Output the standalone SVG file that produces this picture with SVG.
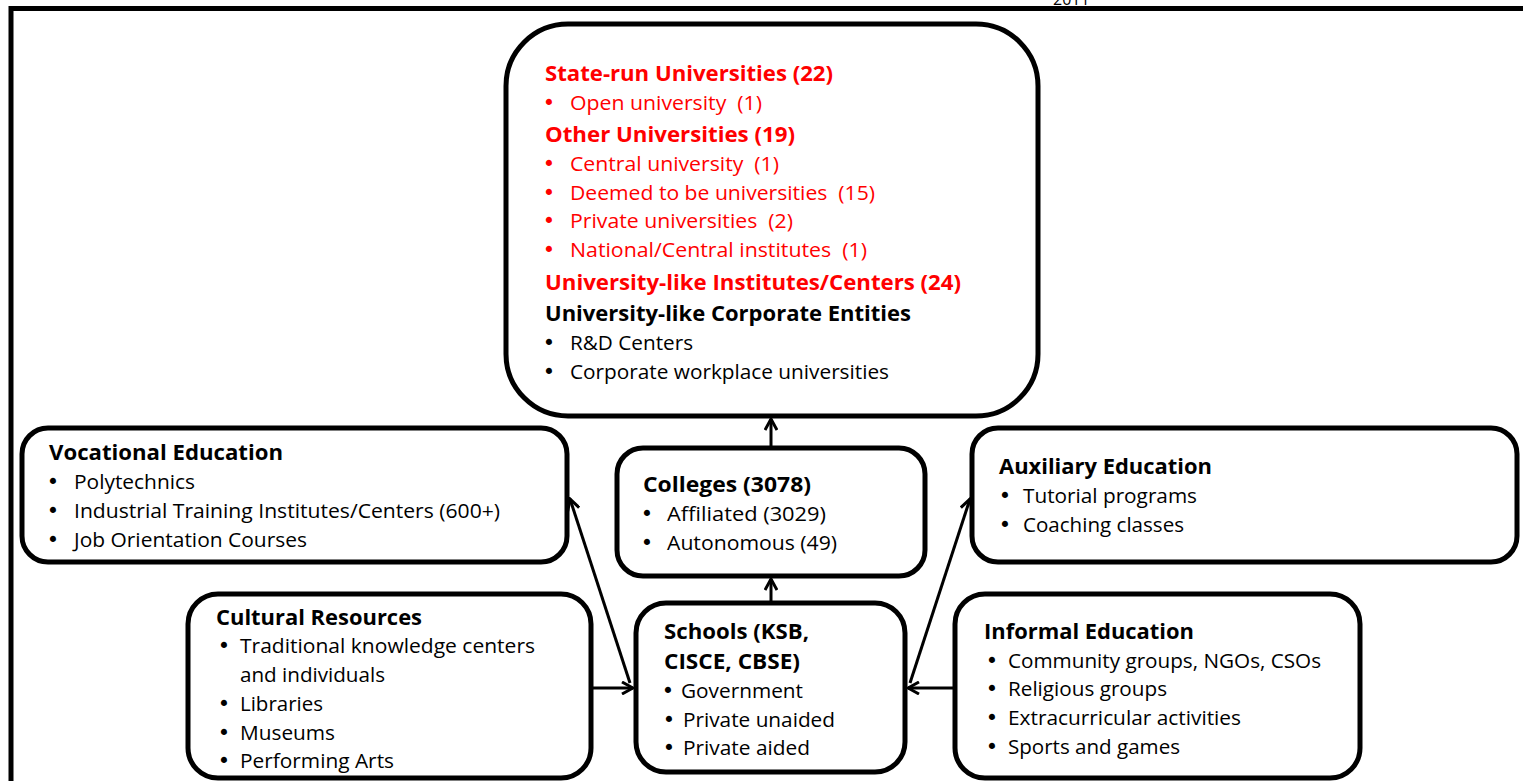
<svg xmlns="http://www.w3.org/2000/svg" width="1523" height="781" viewBox="0 0 1523 781">
<style>
.box{fill:#fff;stroke:#000;stroke-width:5}
.t{font-family:"Open Sans","Noto Sans",sans-serif;font-size:20px;fill:#000;white-space:pre}
.h{font-weight:bold;font-size:21.5px}
.b{font-family:"DejaVu Sans",sans-serif;font-size:21px;fill:#000;text-anchor:middle}
.r{fill:#ff0000}
.c{stroke:#000;stroke-width:3;fill:none}
</style>
<defs>
<marker id="ah" viewBox="0 0 14 14" refX="12" refY="7" markerWidth="14" markerHeight="14" markerUnits="userSpaceOnUse" orient="auto">
<path d="M1,1 L12,7 L1,13" fill="none" stroke="#000" stroke-width="3"/>
</marker>
</defs>
<rect width="1523" height="781" fill="#fff"/>
<path d="M11,790 L11,8.5 L1530,8.5" fill="none" stroke="#000" stroke-width="5"/>
<text class="t" x="1053" y="5" style="font-size:16px">2011</text>

<g id="universities">
<rect class="box" x="506" y="24" width="532" height="392" rx="62"/>
<text class="t h r" x="545" y="81" textLength="288" lengthAdjust="spacingAndGlyphs">State-run Universities (22)</text>
<text class="b r" x="549" y="110">•</text><text class="t r" x="570" y="110" textLength="192" lengthAdjust="spacingAndGlyphs">Open university  (1)</text>
<text class="t h r" x="545" y="142" textLength="250" lengthAdjust="spacingAndGlyphs">Other Universities (19)</text>
<text class="b r" x="549" y="171">•</text><text class="t r" x="570" y="171" textLength="209" lengthAdjust="spacingAndGlyphs">Central university  (1)</text>
<text class="b r" x="549" y="200">•</text><text class="t r" x="570" y="200" textLength="305" lengthAdjust="spacingAndGlyphs">Deemed to be universities  (15)</text>
<text class="b r" x="549" y="228">•</text><text class="t r" x="570" y="228" textLength="223" lengthAdjust="spacingAndGlyphs">Private universities  (2)</text>
<text class="b r" x="549" y="257">•</text><text class="t r" x="570" y="257" textLength="297" lengthAdjust="spacingAndGlyphs">National/Central institutes  (1)</text>
<text class="t h r" x="545" y="290" textLength="416" lengthAdjust="spacingAndGlyphs">University-like Institutes/Centers (24)</text>
<text class="t h" x="545" y="321" textLength="366" lengthAdjust="spacingAndGlyphs">University-like Corporate Entities</text>
<text class="b" x="549" y="350">•</text><text class="t" x="570" y="350" textLength="123" lengthAdjust="spacingAndGlyphs">R&amp;D Centers</text>
<text class="b" x="549" y="379">•</text><text class="t" x="570" y="379" textLength="319" lengthAdjust="spacingAndGlyphs">Corporate workplace universities</text>
</g>

<g id="vocational">
<rect class="box" x="22" y="428" width="545" height="134" rx="26"/>
<text class="t h" x="49" y="460" textLength="234" lengthAdjust="spacingAndGlyphs">Vocational Education</text>
<text class="b" x="53" y="489">•</text><text class="t" x="74" y="489" textLength="121" lengthAdjust="spacingAndGlyphs">Polytechnics</text>
<text class="b" x="53" y="518">•</text><text class="t" x="74" y="518" textLength="426" lengthAdjust="spacingAndGlyphs">Industrial Training Institutes/Centers (600+)</text>
<text class="b" x="53" y="547">•</text><text class="t" x="74" y="547" textLength="233" lengthAdjust="spacingAndGlyphs">Job Orientation Courses</text>
</g>

<g id="colleges">
<rect class="box" x="617" y="448" width="308" height="128" rx="26"/>
<text class="t h" x="643" y="492" textLength="168" lengthAdjust="spacingAndGlyphs">Colleges (3078)</text>
<text class="b" x="647" y="521">•</text><text class="t" x="667" y="521" textLength="159" lengthAdjust="spacingAndGlyphs">Affiliated (3029)</text>
<text class="b" x="647" y="550">•</text><text class="t" x="667" y="550" textLength="170" lengthAdjust="spacingAndGlyphs">Autonomous (49)</text>
</g>

<g id="auxiliary">
<rect class="box" x="972" y="428" width="545" height="134" rx="26"/>
<text class="t h" x="999" y="474" textLength="213" lengthAdjust="spacingAndGlyphs">Auxiliary Education</text>
<text class="b" x="1005" y="503">•</text><text class="t" x="1023" y="503" textLength="174" lengthAdjust="spacingAndGlyphs">Tutorial programs</text>
<text class="b" x="1005" y="532">•</text><text class="t" x="1023" y="532" textLength="161" lengthAdjust="spacingAndGlyphs">Coaching classes</text>
</g>

<g id="cultural">
<rect class="box" x="188" y="594" width="403" height="184" rx="30"/>
<text class="t h" x="216" y="625" textLength="206" lengthAdjust="spacingAndGlyphs">Cultural Resources</text>
<text class="b" x="224" y="653">•</text><text class="t" x="240" y="653" textLength="295" lengthAdjust="spacingAndGlyphs">Traditional knowledge centers</text>
<text class="t" x="240" y="682" textLength="145" lengthAdjust="spacingAndGlyphs">and individuals</text>
<text class="b" x="224" y="711">•</text><text class="t" x="240" y="711" textLength="83" lengthAdjust="spacingAndGlyphs">Libraries</text>
<text class="b" x="224" y="740">•</text><text class="t" x="240" y="740" textLength="95" lengthAdjust="spacingAndGlyphs">Museums</text>
<text class="b" x="224" y="768">•</text><text class="t" x="240" y="768" textLength="154" lengthAdjust="spacingAndGlyphs">Performing Arts</text>
</g>

<g id="schools">
<rect class="box" x="636" y="603" width="269" height="169" rx="30"/>
<text class="t h" x="664" y="639" textLength="145" lengthAdjust="spacingAndGlyphs">Schools (KSB,</text>
<text class="t h" x="664" y="669" textLength="136" lengthAdjust="spacingAndGlyphs">CISCE, CBSE)</text>
<text class="b" x="668" y="698">•</text><text class="t" x="681" y="698" textLength="122" lengthAdjust="spacingAndGlyphs">Government</text>
<text class="b" x="669" y="727">•</text><text class="t" x="683" y="727" textLength="152" lengthAdjust="spacingAndGlyphs">Private unaided</text>
<text class="b" x="669" y="755">•</text><text class="t" x="683" y="755" textLength="127" lengthAdjust="spacingAndGlyphs">Private aided</text>
</g>

<g id="informal">
<rect class="box" x="955" y="594" width="405" height="184" rx="30"/>
<text class="t h" x="984" y="639" textLength="210" lengthAdjust="spacingAndGlyphs">Informal Education</text>
<text class="b" x="992" y="668">•</text><text class="t" x="1008" y="668" textLength="313" lengthAdjust="spacingAndGlyphs">Community groups, NGOs, CSOs</text>
<text class="b" x="992" y="696">•</text><text class="t" x="1008" y="696" textLength="159" lengthAdjust="spacingAndGlyphs">Religious groups</text>
<text class="b" x="992" y="725">•</text><text class="t" x="1008" y="725" textLength="233" lengthAdjust="spacingAndGlyphs">Extracurricular activities</text>
<text class="b" x="992" y="754">•</text><text class="t" x="1008" y="754" textLength="172" lengthAdjust="spacingAndGlyphs">Sports and games</text>
</g>

<g id="connectors">
<line class="c" x1="771" y1="448" x2="771" y2="419" marker-end="url(#ah)"/>
<line class="c" x1="771" y1="603" x2="771" y2="579" marker-end="url(#ah)"/>
<line class="c" x1="630" y1="683" x2="570" y2="499" marker-end="url(#ah)"/>
<line class="c" x1="910" y1="683" x2="970" y2="499" marker-end="url(#ah)"/>
<line class="c" x1="591" y1="688" x2="633" y2="688" marker-end="url(#ah)"/>
<line class="c" x1="955" y1="688" x2="908" y2="688" marker-end="url(#ah)"/>
</g>
</svg>
